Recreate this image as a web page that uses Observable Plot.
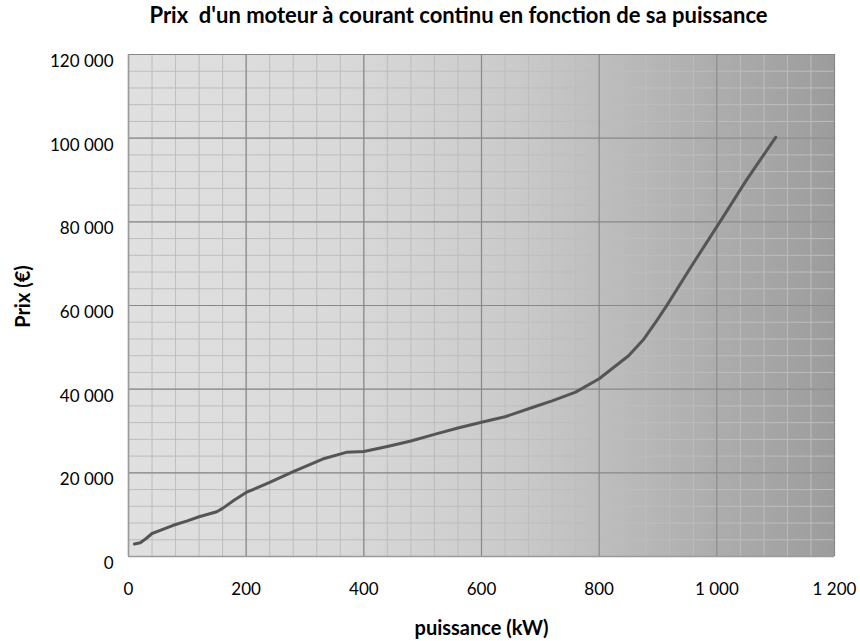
<!DOCTYPE html>
<html>
<head>
<meta charset="utf-8">
<script src="https://cdn.jsdelivr.net/npm/d3@7"></script>
<script src="https://cdn.jsdelivr.net/npm/@observablehq/plot@0.6"></script>
<style>
  html, body { margin: 0; padding: 0; background: #fff; }
  #chart svg { display: block; }
</style>
</head>
<body>
<div id="chart"></div>
<script>
// ---- data ----
const title = "Prix  d'un moteur à courant continu en fonction de sa puissance";
const xLabel = "puissance (kW)";
const yLabel = "Prix (€)";

const puissance = [10, 20, 30, 40, 55, 75, 100, 120, 150, 160, 180, 200, 240, 280, 330, 370, 400, 440, 480, 520, 560, 600, 640, 690, 720, 760, 800, 850, 875, 897, 914, 960, 1008, 1050, 1100];
const prix      = [3000, 3300, 4300, 5500, 6300, 7400, 8500, 9500, 10700, 11500, 13500, 15300, 17700, 20300, 23300, 24900, 25100, 26300, 27600, 29200, 30700, 32100, 33400, 35800, 37200, 39300, 42500, 48000, 51800, 56200, 59800, 70100, 80600, 89900, 100200];

const xMajorTicks = [0, 200, 400, 600, 800, 1000, 1200];
const xMinorTicks = d3.range(0, 1201, 40);
const yMajorTicks = [0, 20000, 40000, 60000, 80000, 100000, 120000];
const yMinorTicks = d3.range(0, 120001, 4000);

const data = puissance.map((p, i) => ({puissance: p, prix: prix[i]}));
const fmt = d3.formatLocale({decimal: ",", thousands: "\u00a0", grouping: [3], currency: ["", " €"]}).format(",");

const chart = Plot.plot({
  width: 860,
  height: 641,
  marginLeft: 128,
  marginRight: 26,
  marginTop: 54,
  marginBottom: 85,
  style: {fontFamily: "Lato, sans-serif", fontSize: "17px", color: "#000", background: "#fff"},
  x: {domain: [0, 1200], ticks: xMajorTicks, tickFormat: fmt, tickSize: 0, tickPadding: 26, label: null},
  y: {domain: [0, 120000], ticks: yMajorTicks, tickFormat: fmt, tickSize: 0, tickPadding: 15, label: null},
  marks: [
    Plot.frame({fill: "url(#bgGrad)", stroke: null}),
    Plot.ruleX(xMinorTicks, {stroke: "#bdbdbd", strokeWidth: 1}),
    Plot.ruleY(yMinorTicks, {stroke: "#bdbdbd", strokeWidth: 1}),
    Plot.ruleX(xMajorTicks, {stroke: "#888888", strokeWidth: 1.2}),
    Plot.ruleY(yMajorTicks, {stroke: "#888888", strokeWidth: 1.2}),
    Plot.ruleX([0], {stroke: "#9a9a9a", strokeWidth: 1.5}),
    Plot.ruleY([0], {stroke: "#9a9a9a", strokeWidth: 1.5}),
    Plot.line(data, {x: "puissance", y: "prix", stroke: "#555555", strokeWidth: 3, curve: "linear", strokeLinejoin: "round"}),
    Plot.text([title], {frameAnchor: "top", dx: -23, dy: -47, fontSize: 22, fontWeight: "bold", fill: "#000"}),
    Plot.text([xLabel], {frameAnchor: "bottom", dy: 78, fontSize: 20, fontWeight: "bold", fill: "#000"}),
    Plot.text([yLabel], {frameAnchor: "left", textAnchor: "middle", lineAnchor: "middle", dx: -105, dy: -9, rotate: -90, fontSize: 20, fontWeight: "bold", fill: "#000"})
  ]
});

// gradient background definition
const svg = d3.select(chart);
const defs = svg.insert("defs", ":first-child");
const grad = defs.append("linearGradient").attr("id", "bgGrad").attr("x1", "0").attr("x2", "1").attr("y1", "0").attr("y2", "0");
[[0, "#e0e0e0"], [0.3, "#d9d9d9"], [0.55, "#cacaca"], [0.75, "#b5b5b5"], [1, "#9c9c9c"]].forEach(([o, c]) =>
  grad.append("stop").attr("offset", o).attr("stop-color", c));
svg.selectAll("text").filter(function() { return this.textContent === title; }).style("white-space", "pre");
// nudge y tick labels slightly down like the reference
svg.selectAll("[aria-label='y-axis tick label'] text").attr("dy", "0.42em");

document.getElementById("chart").appendChild(chart);
</script>
</body>
</html>
